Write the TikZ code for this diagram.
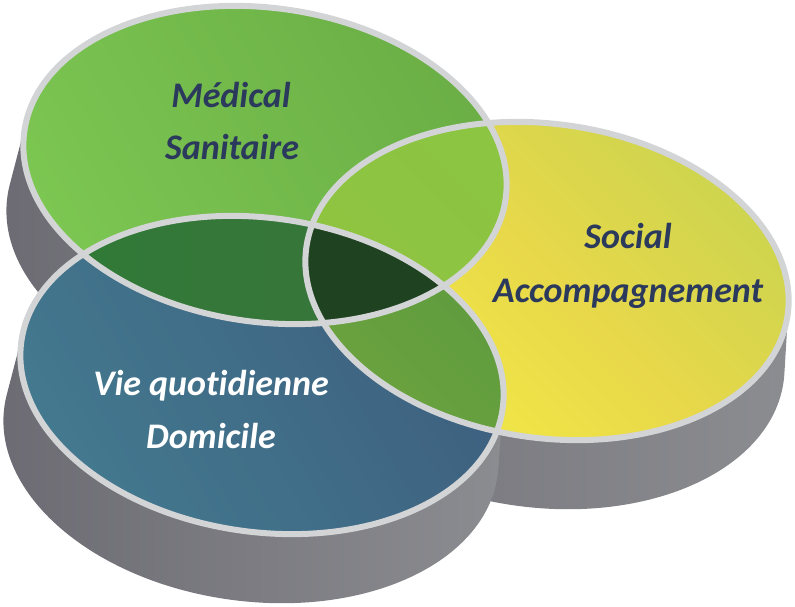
\documentclass[tikz,border=0pt]{standalone}
\usepackage{fontspec}
\setmainfont{Carlito}[Ligatures=NoCommon]
\usetikzlibrary{calc}
\definecolor{rimgray}{HTML}{D3D4D6}
\definecolor{navy}{HTML}{2B3A5C}
\definecolor{tA}{HTML}{7CC652}
\definecolor{tB}{HTML}{6AAE45}
\definecolor{rA}{HTML}{F3EA45}
\definecolor{rM}{HTML}{E8D84A}
\definecolor{rB}{HTML}{CBD44F}
\definecolor{bA}{HTML}{43798F}
\definecolor{bB}{HTML}{3D5E7E}
\definecolor{tbA}{HTML}{2F7A36}
\definecolor{tbB}{HTML}{3C733C}
\definecolor{trA}{HTML}{90C340}
\definecolor{trB}{HTML}{88C642}
\definecolor{brA}{HTML}{6AA23E}
\definecolor{brB}{HTML}{4A8F3F}
\definecolor{ctr}{HTML}{1F4220}
\definecolor{gA}{HTML}{6C6B73}
\definecolor{gB}{HTML}{8C8D91}
\newcommand\ovl[1]{(#1) ellipse [x radius=243pt, y radius=157pt, rotate=-8]}
\begin{document}
\begin{tikzpicture}[x=1pt,y=1pt,
  rim/.style={draw=rimgray, line width=6pt},
  lbl/.style={font=\fontsize{36}{42}\selectfont\bfseries\itshape, text=navy, anchor=base}]
\useasboundingbox (0,0) rectangle (795,-607);
\coordinate (Tc) at (265,-165);
\coordinate (Rc) at (547,-281);
\coordinate (Bc) at (262,-375);
\coordinate (Tb) at (254,-231);
\coordinate (Rb) at (537,-347);
\coordinate (Bb) at (251,-441);
% extruded sides
\shade[left color=gA, right color=gB] foreach \t in {0,0.05,...,1.01} { ($(Tc)!\t!(Tb)$) ellipse [x radius={243pt+6pt*\t}, y radius={157pt+3pt*\t}, rotate=-8] };
\shade[left color=gA!80!gB, right color=gB] foreach \t in {0,0.05,...,1.01} { ($(Rc)!\t!(Rb)$) ellipse [x radius={243pt+6pt*\t}, y radius={157pt+3pt*\t}, rotate=-8] };
\shade[left color=gA, right color=gB] foreach \t in {0,0.05,...,1.01} { ($(Bc)!\t!(Bb)$) ellipse [x radius={243pt+6pt*\t}, y radius={157pt+3pt*\t}, rotate=-8] };
% top faces
\shade[left color=tA, right color=tB, shading angle=120] \ovl{Tc};
\shade[left color=rA, right color=rB, middle color=rM, shading angle=135] \ovl{Rc};
\shade[left color=bA, right color=bB, shading angle=120] \ovl{Bc};
\begin{scope}
  \clip \ovl{Bc};
  \shade[left color=brA, right color=brB, shading angle=135] \ovl{Rc};
\end{scope}
\begin{scope}
  \clip \ovl{Tc};
  \shade[left color=tbA, right color=tbB] \ovl{Bc};
  \shade[left color=trA, right color=trB, shading angle=135] \ovl{Rc};
  \clip \ovl{Bc};
  \fill[ctr] \ovl{Rc};
\end{scope}
% rims
\draw[rim] \ovl{Tc};
\draw[rim] \ovl{Rc};
\draw[rim] \ovl{Bc};
% labels
\node[lbl] (med) at (231,-108) {Médical};
\node[lbl] (san) at (232,-160) {Sanitaire};
\node[lbl] (soc) at (628,-248) {Social};
\node[lbl] (acc) at (628,-302) {Accompagnement};
\node[lbl, text=white] (vie) at (211,-395) {Vie quotidienne};
\node[lbl, text=white] (dom) at (211,-448) {Domicile};
\end{tikzpicture}
\end{document}
